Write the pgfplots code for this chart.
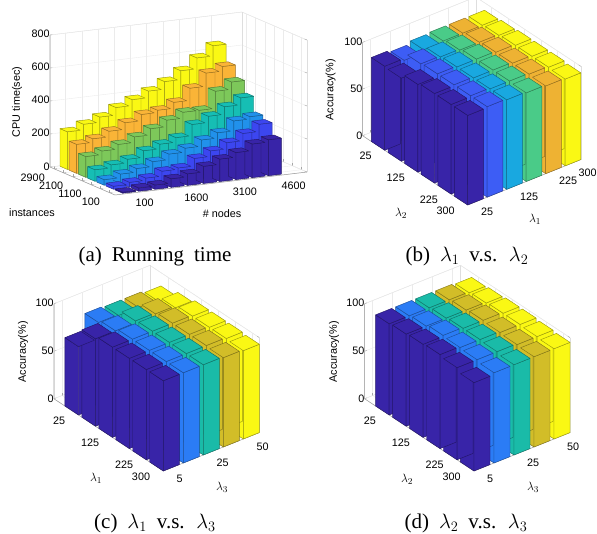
\documentclass[border=0pt]{standalone}
\usepackage{fontspec}
\usepackage{pgfplots}
\pgfplotsset{compat=1.18}
\setmainfont{Liberation Sans}
\newfontfamily\capfont[WordSpace=1.9]{Liberation Serif}
\definecolor{cA}{RGB}{56,36,168}
\definecolor{cB}{RGB}{60,70,240}
\definecolor{cC}{RGB}{33,145,235}
\definecolor{cD}{RGB}{22,190,180}
\definecolor{cE}{RGB}{125,200,90}
\definecolor{cF}{RGB}{250,180,55}
\definecolor{cG}{RGB}{250,248,20}
\definecolor{bB}{RGB}{61,93,245}
\definecolor{bC}{RGB}{25,168,224}
\definecolor{bD}{RGB}{74,203,136}
\definecolor{bE}{RGB}{238,178,51}
\definecolor{dB}{RGB}{43,124,245}
\definecolor{dC}{RGB}{26,187,168}
\definecolor{dD}{RGB}{210,189,40}
\def\xoff{0.4}\def\yoff{0.4}
% #1 fixed index, #2 0: #1 is the row, 1: #1 is the column, #3 colour, #4 heights
\newcommand\bargroup[4]{%
  \gdef\pts{}%
  \foreach \h [count=\k from 0] in {#4}{%
    \ifnum#2=0
      \pgfmathsetmacro\cx{\k+\xoff}\pgfmathsetmacro\cy{#1+\yoff}%
    \else
      \pgfmathsetmacro\cx{#1+\xoff}\pgfmathsetmacro\cy{\k+\yoff}%
    \fi
    \pgfmathsetmacro\xa{\cx-0.4}\pgfmathsetmacro\xb{\cx+0.4}%
    \pgfmathsetmacro\ya{\cy-0.4}\pgfmathsetmacro\yb{\cy+0.4}%
    \xdef\pts{(\xa,\ya,0)(\xa,\yb,0)(\xa,\yb,\h)(\xa,\ya,\h)
      (\xa,\ya,0)(\xb,\ya,0)(\xb,\ya,\h)(\xa,\ya,\h)
      (\xa,\ya,\h)(\xb,\ya,\h)(\xb,\yb,\h)(\xa,\yb,\h) \pts}%
  }%
  \edef\next{\noexpand\addplot3[patch,patch type=rectangle,shader=faceted,
    faceted color=#3!62!black,line width=0.45pt,point meta=1,
    colormap={m#3}{color=(#3) color=(#3)}] coordinates {\pts};}\next
}
\newcommand\lab[4][0]{\node[font=\fontsize{10.8}{12}\selectfont,rotate=#1,inner sep=0pt] at (#2pt,533pt-#3pt) {#4};}
\newcommand\lam[3]{\node[font=\fontsize{12.5}{14}\selectfont,inner sep=0pt] at (#1pt,533pt-#2pt) {#3};}
\newcommand\capt[3]{\node[font=\capfont\fontsize{21}{22}\selectfont,inner sep=0pt] at (#1pt,533pt-#2pt) {#3};}
\pgfplotsset{
  barax/.style={
    disabledatascaling,anchor=origin,clip=false,
    xmin=0,ymin=0,zmin=0,
    point meta min=0,point meta max=1,
    grid=major,
    major grid style={gray!16,line width=0.4pt},
    axis line style={gray!26,line width=0.4pt},
    tick style={gray!70,line width=0.4pt},
    major tick length=2.5pt,
    xtick pos=lower,ytick pos=lower,ztick pos=left,
    ticklabel style={font=\fontsize{10.8}{12}\selectfont,inner sep=0pt},
    /pgf/number format/assume math mode=true,
    /pgf/number format/1000 sep={},
    xticklabel pos=lower,yticklabel pos=lower,
    xticklabel style={anchor=west},
    yticklabel style={anchor=east},
  },
  lowbars/.style={
    x={(19.5pt,7.83pt)},y={(-16.6pt,10.95pt)},z={(0pt,0.933pt)},
    xmax=5.8,ymax=6.33,zmax=100,
    xtick={0.4,1.4,...,5.4},ytick={0.4,1.4,...,5.4},ztick={0,50,100},
    xticklabels={25,,125,,225,300},
    yticklabels={300,225,,125,,25},
    xticklabel style={xshift=5.5pt,yshift=-10.3pt},
    yticklabel style={xshift=-6.3pt,yshift=-9.7pt},
  },
  fivebars/.style={
    x={(20pt,8pt)},y={(-16.96pt,11.2pt)},z={(0pt,0.95pt)},
    xmax=4.8,ymax=6.45,zmax=100,
    xtick={0.4,1.4,...,4.4},ytick={0.4,1.4,...,5.4},ztick={0,50,100},
    xticklabels={5,,25,,50},
    yticklabels={300,225,,125,,25},
    xticklabel style={xshift=5pt,yshift=-11pt},
    yticklabel style={xshift=-6.3pt,yshift=-9.8pt},
  },
}
\newcommand\floor[3]{\addplot3[gray!75,line width=0.5pt,no markers] coordinates {(0,#2,#3)(0,#2,0)(0,0,0)(#1,0,0)};}
\begin{document}
\begin{tikzpicture}[x=1pt,y=1pt]
\path[use as bounding box] (0pt,0pt) rectangle (597pt,533pt);
% ---------- (a)
\begin{axis}[barax,at={(115pt,338pt)},
  x={(16.2pt,1.94pt)},y={(-9.2pt,3.96pt)},z={(0pt,0.165pt)},
  xmax=11.85,ymax=7.07,zmax=800,
  xtick={0.97,1.97,...,9.97},ytick={0.58,1.58,...,6.58},ztick={0,200,...,800},
  xticklabels={100,,,1600,,,3100,,,4600},
  yticklabels={100,,1100,,2100,,2900},
  xticklabel style={xshift=4.8pt,yshift=-10pt},
  yticklabel style={xshift=-9.5pt,yshift=-9pt}]
\floor{11.85}{7.07}{800}
\def\xoff{0.97}\def\yoff{0.58}
\bargroup{6}{0}{cG}{228,262,294,340,376,416,462,516,582,644}
\bargroup{5}{0}{cF}{176,198,232,272,310,324,360,434,514,542}
\bargroup{4}{0}{cE}{126,148,176,210,248,288,324,324,428,472}
\bargroup{3}{0}{cD}{70,88,110,150,178,206,274,312,358,400}
\bargroup{2}{0}{cC}{34,56,78,108,142,166,204,236,296,310}
\bargroup{1}{0}{cB}{18,30,44,74,82,128,162,200,244,288}
\bargroup{0}{0}{cA}{6,20,26,52,70,104,136,164,204,218}
\end{axis}
\def\xoff{0.4}\def\yoff{0.4}
% ---------- (b)
\begin{axis}[barax,lowbars,at={(467.7pt,328pt)}]
\floor{5.8}{6.33}{100}
\bargroup{5}{1}{cG}{93,94,94,94,93,92}
\bargroup{4}{1}{bE}{94,95,95,95,94,92}
\bargroup{3}{1}{bD}{95,96,96,96,94,92}
\bargroup{2}{1}{bC}{96,96,96,96,95,91}
\bargroup{1}{1}{bB}{97,97,97,97,96,88}
\bargroup{0}{1}{cA}{96,96,96,94,89,90}
\end{axis}
% ---------- (c)
\begin{axis}[barax,fivebars,at={(163.3pt,62pt)}]
\floor{4.8}{6.45}{100}
\bargroup{4}{1}{cG}{93,94,94,94,91,86}
\bargroup{3}{1}{dD}{94,95,95,95,93,88}
\bargroup{2}{1}{dC}{95,95,95,95,94,88}
\bargroup{1}{1}{dB}{95,95,95,95,92,89}
\bargroup{0}{1}{cA}{95,95,95,95,92,72}
\end{axis}
% ---------- (d)
\begin{axis}[barax,fivebars,at={(474pt,62pt)}]
\floor{4.8}{6.45}{100}
\bargroup{4}{1}{cG}{95,96,97,97,96,95}
\bargroup{3}{1}{dD}{95,96,97,98,97,96}
\bargroup{2}{1}{dC}{95,97,98,98,97,96}
\bargroup{1}{1}{dB}{95,97,98,99,97,96}
\bargroup{0}{1}{cA}{93,97,99,98,97,96}
\end{axis}
% ---------- labels
\lab{222}{214}{\# nodes}
\lab{32}{213}{instances}
\lab[90]{17}{102}{CPU time(sec)}
\lab[90]{330.7}{90}{Accuracy(\%)}
\lam{401}{213}{$\lambda_2$}
\lam{535}{219}{$\lambda_1$}
\lab[90]{23}{352}{Accuracy(\%)}
\lam{96}{478}{$\lambda_1$}
\lam{222}{487}{$\lambda_3$}
\lab[90]{334}{352}{Accuracy(\%)}
\lam{407}{479}{$\lambda_2$}
\lam{533}{487}{$\lambda_3$}
\capt{155}{256.5}{(a) Running time}
\capt{467}{256.5}{(b) $\lambda_1$ v.s. $\lambda_2$}
\capt{155}{523.5}{(c) $\lambda_1$ v.s. $\lambda_3$}
\capt{466}{523.5}{(d) $\lambda_2$ v.s. $\lambda_3$}
\end{tikzpicture}
\end{document}
